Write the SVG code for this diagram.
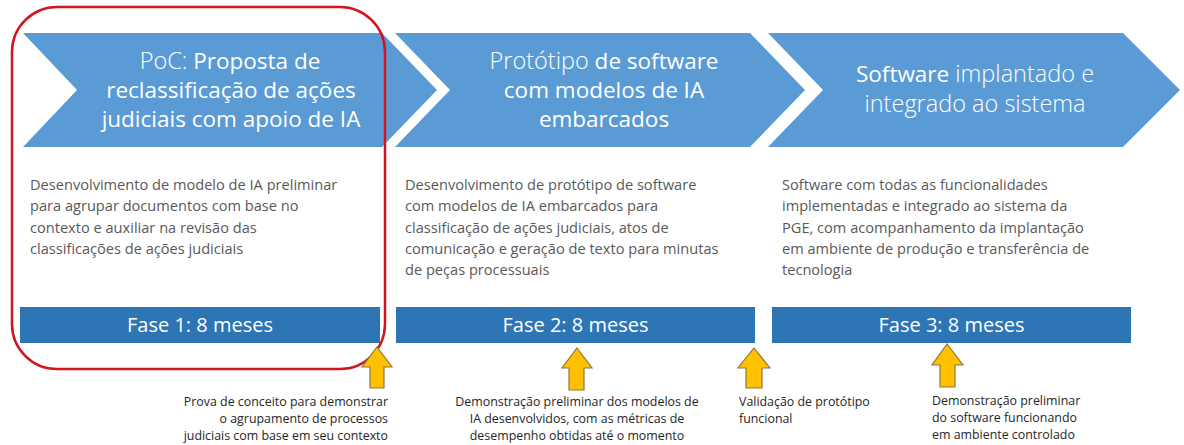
<svg xmlns="http://www.w3.org/2000/svg" width="1184" height="445" viewBox="0 0 1184 445">
<style>
.chev{fill:#5B9BD5}
.bar{fill:#2E75B6}
.ttl{font-family:"Open Sans","Noto Sans",sans-serif;font-size:22.5px;fill:#FFFFFF;text-anchor:middle}
.lt{font-weight:300;font-size:23.5px}
.rg{font-weight:400}
.body{font-family:"Open Sans","Noto Sans",sans-serif;font-size:14.6px;fill:#595959}
.fase{font-family:"Open Sans","Noto Sans",sans-serif;font-size:20px;fill:#FFFFFF;text-anchor:middle;font-weight:400}
.lbl{font-family:"Open Sans","Noto Sans",sans-serif;font-size:12.4px;fill:#262626}
.arr{fill:#FFC000;stroke:#8C7A3C;stroke-width:1.2;stroke-linejoin:miter}
.hl{fill:none;stroke:#D0161E;stroke-width:2.5}
</style>
<rect width="1184" height="445" fill="#FFFFFF"/>

<g id="phase1">
<polygon class="chev" points="23,33 382,33 437,90 382,147 23,147 77,90"/>
<text class="ttl" x="230" y="69"><tspan class="lt">PoC:</tspan><tspan class="rg"> Proposta de</tspan></text>
<text class="ttl rg" x="231" y="98">reclassificação de ações</text>
<text class="ttl rg" x="231" y="127">judiciais com apoio de IA</text>
<text class="body" x="30"><tspan x="30" y="190">Desenvolvimento de modelo de IA preliminar</tspan><tspan x="30" y="211.3">para agrupar documentos com base no</tspan><tspan x="30" y="232.6">contexto e auxiliar na revisão das</tspan><tspan x="30" y="253.9">classificações de ações judiciais</tspan></text>
<rect class="bar" x="20" y="307" width="360" height="36"/>
<text class="fase" x="200" y="332">Fase 1: 8 meses</text>
</g>

<g id="phase2">
<polygon class="chev" points="395,33 750,33 805,90 750,147 395,147 450,90"/>
<text class="ttl" x="604" y="69"><tspan class="lt">Protótipo</tspan><tspan class="rg"> de software</tspan></text>
<text class="ttl rg" x="604" y="98">com modelos de IA</text>
<text class="ttl rg" x="604" y="127">embarcados</text>
<text class="body"><tspan x="405" y="190">Desenvolvimento de protótipo de software</tspan><tspan x="405" y="211.3">com modelos de IA embarcados para</tspan><tspan x="405" y="232.6">classificação de ações judiciais, atos de</tspan><tspan x="405" y="253.9">comunicação e geração de texto para minutas</tspan><tspan x="405" y="275.2">de peças processuais</tspan></text>
<rect class="bar" x="396" y="307" width="359" height="36"/>
<text class="fase" x="575.5" y="332">Fase 2: 8 meses</text>
</g>

<g id="phase3">
<polygon class="chev" points="768,33 1123,33 1180,90 1123,147 768,147 823,90"/>
<text class="ttl" x="975" y="82"><tspan class="rg">Software</tspan><tspan class="lt"> implantado e</tspan></text>
<text class="ttl lt" x="975" y="112">integrado ao sistema</text>
<text class="body"><tspan x="782" y="190">Software com todas as funcionalidades</tspan><tspan x="782" y="211.3">implementadas e integrado ao sistema da</tspan><tspan x="782" y="232.6">PGE, com acompanhamento da implantação</tspan><tspan x="782" y="253.9">em ambiente de produção e transferência de</tspan><tspan x="782" y="275.2">tecnologia</tspan></text>
<rect class="bar" x="772" y="307" width="359" height="36"/>
<text class="fase" x="951.5" y="332">Fase 3: 8 meses</text>
</g>

<g id="highlight">
<rect class="hl" x="12" y="7" width="373" height="362" rx="45" ry="45"/>
</g>

<g id="connectors">
<polygon class="arr" points="377,347 392,367 384,367 384,388 370,388 370,367 362,367"/>
<polygon class="arr" points="577,348 592,368 584,368 584,390 569,390 569,368 562,368"/>
<polygon class="arr" points="754,348 770,368 762,368 762,388 746,388 746,368 738,368"/>
<polygon class="arr" points="947,344 963,365 955,365 955,387 940,387 940,365 932,365"/>
</g>

<g id="milestone1">
<text class="lbl" text-anchor="end"><tspan x="388" y="406">Prova de conceito para demonstrar</tspan><tspan x="388" y="423">o agrupamento de processos</tspan><tspan x="388" y="440">judiciais com base em seu contexto</tspan></text>
</g>
<g id="milestone2">
<text class="lbl" text-anchor="middle"><tspan x="577" y="406">Demonstração preliminar dos modelos de</tspan><tspan x="577" y="423">IA desenvolvidos, com as métricas de</tspan><tspan x="577" y="440">desempenho obtidas até o momento</tspan></text>
</g>
<g id="milestone3">
<text class="lbl"><tspan x="739" y="406">Validação de protótipo</tspan><tspan x="739" y="423">funcional</tspan></text>
</g>
<g id="milestone4">
<text class="lbl"><tspan x="932" y="405">Demonstração preliminar</tspan><tspan x="932" y="422">do software funcionando</tspan><tspan x="932" y="439">em ambiente controlado</tspan></text>
</g>
</svg>
